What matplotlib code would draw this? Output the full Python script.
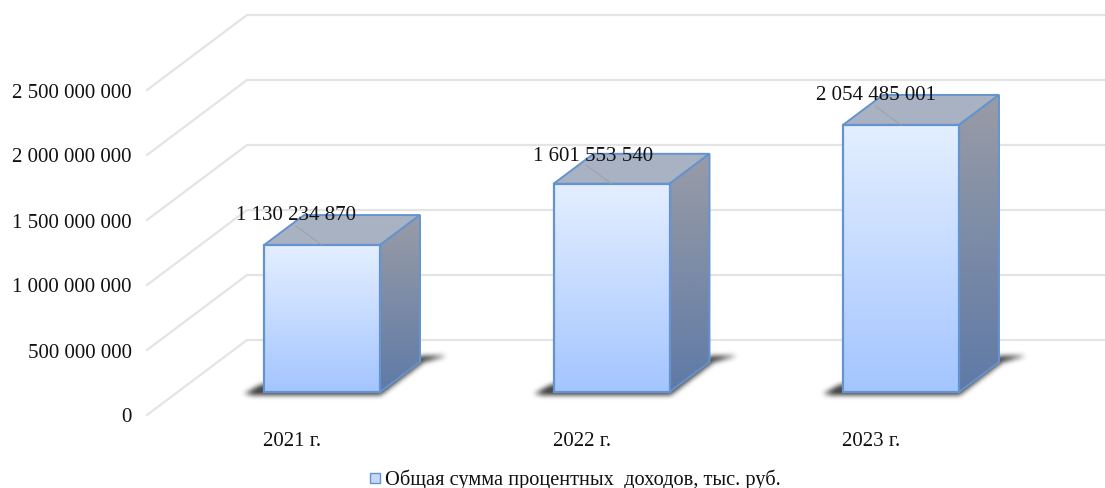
import numpy as np
import matplotlib
matplotlib.use('Agg')
import matplotlib.pyplot as plt
from matplotlib.colors import LinearSegmentedColormap
from matplotlib.patches import Polygon
from matplotlib.path import Path

categories = ['2021 г.', '2022 г.', '2023 г.']
values = [1130234870, 1601553540, 2054485001]
value_labels = ['1 130 234 870', '1 601 553 540', '2 054 485 001']
ticks = [0, 500000000, 1000000000, 1500000000, 2000000000, 2500000000]
tick_labels = ['0', '500 000 000', '1 000 000 000', '1 500 000 000', '2 000 000 000', '2 500 000 000']
legend_label = 'Общая сумма процентных  доходов, тыс. руб.'

# label placement next to each bar, in pixels
label_dx = [-26, -18, -25]
label_dy = [30, 27, 29]

plt.rcParams['font.family'] = ['Liberation Serif', 'DejaVu Serif']

# scales: pixels per category and per unit of value
px_x = 289.5
px_y = 130e-9
x0_px = 322
y0_px = 392


def dx(p):
    return p / px_x


def dy(p):
    return p / px_y


def shadow_alpha():
    # blurred shape in pixels, relative to the front left corner of a bar
    u = np.arange(-34, 196)
    w = np.arange(52, -16, -1)
    uu, ww = np.meshgrid(u, w)
    shape = Path([(-20, -2), (-4, 7), (116, 7), (156, 36), (182, 36), (160, 30), (116, -4), (-8, -4)])
    a = shape.contains_points(np.c_[uu.ravel(), ww.ravel()]).reshape(uu.shape).astype(float)
    kernel = np.ones(5) / 5
    for _ in range(3):
        a = np.apply_along_axis(lambda r: np.convolve(r, kernel, mode='same'), 0, a)
        a = np.apply_along_axis(lambda r: np.convolve(r, kernel, mode='same'), 1, a)
    rgba = np.zeros(a.shape + (4,))
    rgba[..., :3] = 0.3
    rgba[..., 3] = np.clip(a * 1.1, 0, 1)
    return rgba, u, w


fig = plt.figure(figsize=(11.05, 4.88), dpi=100)
ax = fig.add_axes([0, 0, 1, 1])
ax.set_xlim(-x0_px / px_x, (1105 - x0_px) / px_x)
ax.set_ylim(-(488 - y0_px) / px_y, y0_px / px_y)
ax.axis('off')

# walls: gridlines run from the left edge back, then along the back wall
wall_x0 = dx(147 - x0_px)
wall_x1 = dx(247 - x0_px)
wall_x2 = dx(1105 - x0_px)
for t, lab in zip(ticks, tick_labels):
    ya = t - dy(23)
    yb = t + dy(52)
    ax.plot([wall_x0, wall_x1, wall_x2], [ya, yb, yb], color='#e4e4e4', lw=1.6,
            solid_joinstyle='miter', zorder=1)
    ax.text(dx(132 - x0_px), ya + dy(-3), lab, ha='right', va='center', fontsize=15, color='#111111')

front_cm = LinearSegmentedColormap.from_list('front', ['#e4efff', '#a4c5ff'])
side_cm = LinearSegmentedColormap.from_list('side', ['#999ca6', '#5f7aa6'])

bw = dx(116)
ox = dx(40)
oy = dy(30)
edge = '#6493cf'
rgba, su, sw_ = shadow_alpha()
for i, v in enumerate(values):
    xl = i - bw / 2
    xr = i + bw / 2

    ax.imshow(rgba, aspect='auto', interpolation='bilinear', zorder=2,
              extent=[xl + dx(su[0]), xl + dx(su[-1]), dy(sw_[-1]), dy(sw_[0])])

    # top face
    ax.add_patch(Polygon([(xl, v), (xr, v), (xr + ox, v + oy), (xl + ox, v + oy)], closed=True,
                         fc='#a9b2c2', ec=edge, lw=1.4, zorder=3))

    # side face, gradient clipped to the shape
    side = Polygon([(xr, 0), (xr + ox, oy), (xr + ox, v + oy), (xr, v)], closed=True,
                   fc='none', ec=edge, lw=1.4, zorder=5)
    ax.add_patch(side)
    im = ax.imshow(np.linspace(0, 1, 128).reshape(-1, 1), cmap=side_cm, aspect='auto',
                   extent=[xr, xr + ox, 0, v + oy], origin='upper', zorder=4)
    im.set_clip_path(side)

    # front face
    front = Polygon([(xl, 0), (xr, 0), (xr, v), (xl, v)], closed=True, fc='none', ec=edge, lw=1.6,
                    zorder=7)
    ax.add_patch(front)
    im = ax.imshow(np.linspace(0, 1, 128).reshape(-1, 1), cmap=front_cm, aspect='auto',
                   extent=[xl, xr, 0, v], origin='upper', zorder=6)
    im.set_clip_path(front)

    # leader line and value label
    ax.plot([i - dx(26), i], [v + dy(19), v], color='#a0a0a0', lw=0.7, zorder=8)
    ax.text(i + dx(label_dx[i]), v + dy(label_dy[i]), value_labels[i], ha='center', va='center',
            fontsize=15, color='#111111', zorder=9)

    ax.text(i - dx(29.5), dy(-49), categories[i], ha='center', va='center', fontsize=15, color='#111111')

ax.set_xlim(-x0_px / px_x, (1105 - x0_px) / px_x)
ax.set_ylim(-(488 - y0_px) / px_y, y0_px / px_y)

# legend
sw = Polygon([(dx(370 - x0_px), dy(-91)), (dx(380 - x0_px), dy(-91)),
              (dx(380 - x0_px), dy(-81)), (dx(370 - x0_px), dy(-81))],
             closed=True, fc='#c3d8fb', ec=edge, lw=1)
ax.add_patch(sw)
ax.text(dx(385 - x0_px), dy(-88), legend_label, ha='left', va='center', fontsize=14.7, color='#111111')

plt.savefig('out.png', dpi=100)
